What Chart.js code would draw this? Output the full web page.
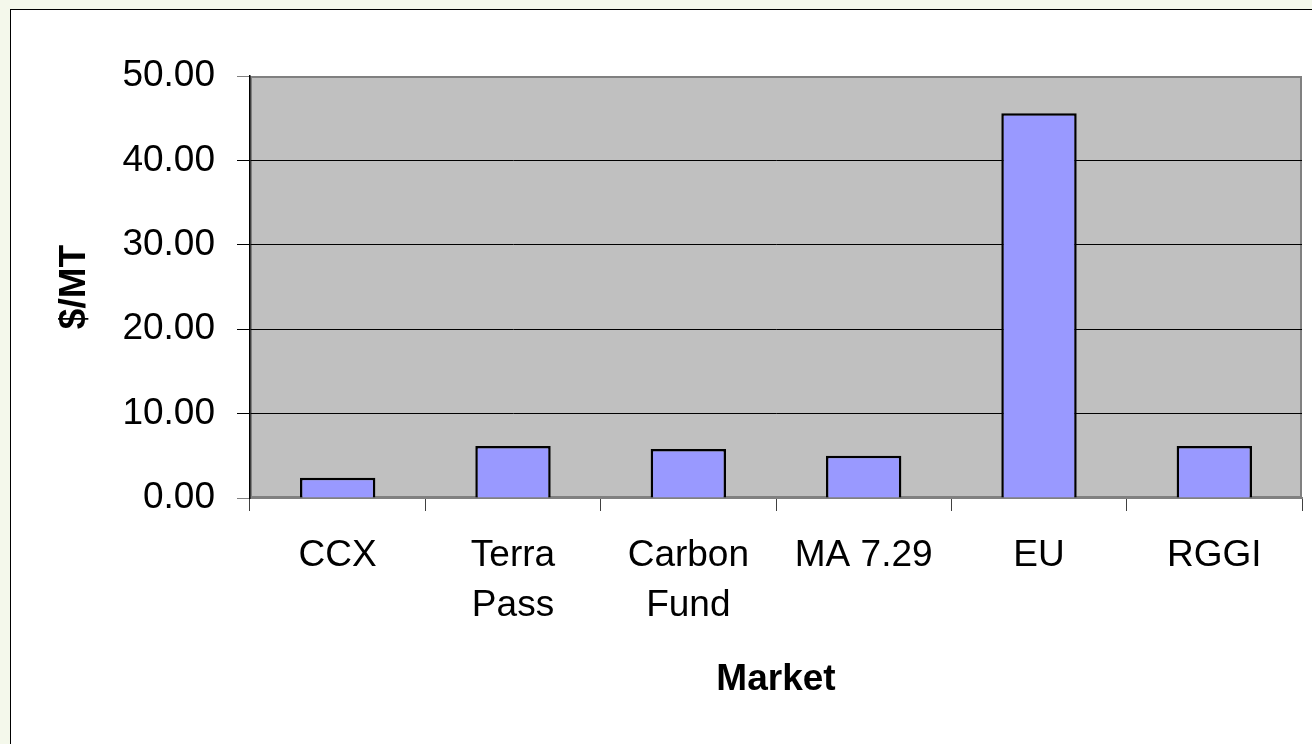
<!DOCTYPE html>
<html>
<head>
<meta charset="utf-8">
<script src="https://cdn.jsdelivr.net/npm/chart.js@4"></script>
<style>
  html, body { margin: 0; padding: 0; width: 1312px; height: 744px; overflow: hidden; background: #f4f8eb; }
  #frame { position: absolute; left: 10px; top: 9px; width: 1320px; height: 760px; background: #fff; border: 1px solid #000; }
  #chart { position: absolute; left: 0; top: 0; }
</style>
</head>
<body>
<div id="frame"></div>
<canvas id="chart" width="1312" height="744"></canvas>
<script>
const markets = ['CCX', ['Terra', 'Pass'], ['Carbon', 'Fund'], 'MA 7.29', 'EU', 'RGGI'];
const prices  = [2.4, 6.15, 5.8, 5.0, 45.6, 6.15];

const FONT = 'Liberation Sans, Arial, sans-serif';

// gray plot area with a dark gray frame, like the old Excel look
const plotBg = {
  id: 'plotBg',
  beforeDraw(chart) {
    const { ctx, chartArea: a } = chart;
    ctx.save();
    ctx.fillStyle = '#c0c0c0';
    ctx.fillRect(a.left, a.top, a.right - a.left, a.bottom - a.top);
    ctx.strokeStyle = '#808080';
    ctx.lineWidth = 2;
    ctx.strokeRect(a.left + 1, a.top + 1, a.right - a.left - 2, a.bottom - a.top - 2);
    ctx.restore();
  }
};

new Chart(document.getElementById('chart'), {
  type: 'bar',
  data: {
    labels: markets,
    datasets: [{
      data: prices,
      backgroundColor: '#9999ff',
      borderColor: '#000',
      borderWidth: 2.5,
      barPercentage: 0.43,
      categoryPercentage: 1
    }]
  },
  options: {
    responsive: false,
    animation: false,
    devicePixelRatio: 1,
    layout: { padding: { top: 76, right: 10, left: 0, bottom: 0 } },
    plugins: { legend: { display: false }, tooltip: { enabled: false } },
    scales: {
      x: {
        afterFit(s) { s.height = 246; },
        grid: { drawOnChartArea: false, drawTicks: true, tickLength: 13, color: '#404040', offset: true },
        border: { color: '#808080', width: 2 },
        ticks: { color: '#000', padding: 20, maxRotation: 0, autoSkip: false,
                 font: { family: FONT, size: 37, lineHeight: 1.35 } },
        title: { display: true, text: 'Market', color: '#000', padding: { top: 0, bottom: 42 },
                 font: { family: FONT, size: 37, weight: 'bold' } }
      },
      y: {
        min: 0, max: 50,
        afterFit(s) { s.width = 250; },
        ticks: { stepSize: 10, color: '#000', padding: 22, callback: v => Number(v).toFixed(2),
                 font: { family: FONT, size: 37 } },
        grid: {
          tickLength: 13,
          color: c => (c.tick && (c.tick.value === 0 || c.tick.value === 50)) ? '#808080' : '#000',
          lineWidth: 1
        },
        border: { color: '#000', width: 1.5 },
        title: { display: true, text: '$/MT', color: '#000', padding: { top: 53, bottom: 0 },
                 font: { family: FONT, size: 37, weight: 'bold' } }
      }
    }
  },
  plugins: [plotBg]
});
</script>
</body>
</html>
